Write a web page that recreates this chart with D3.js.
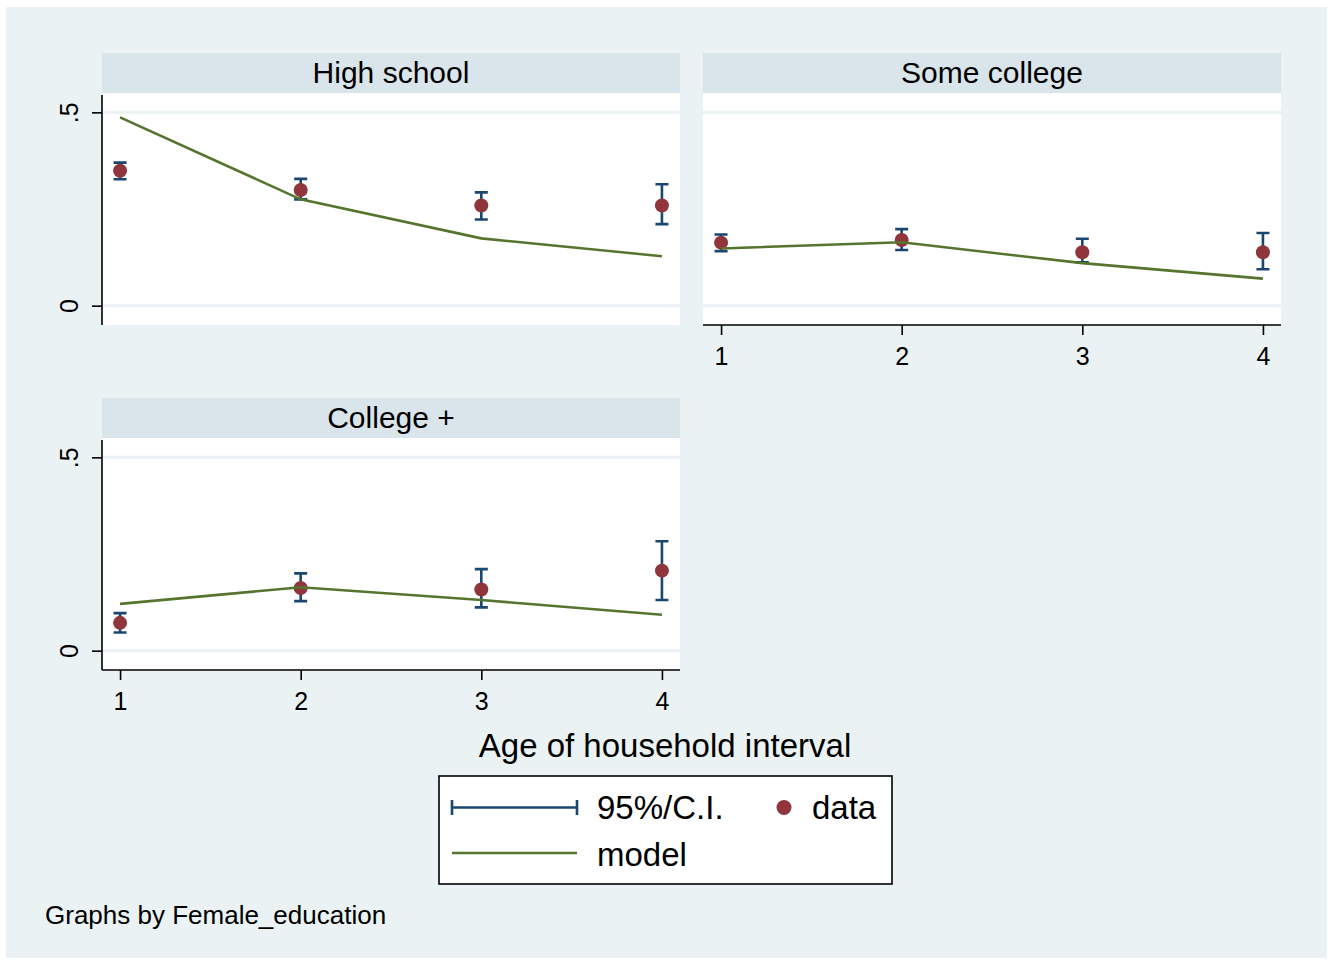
<!DOCTYPE html>
<html>
<head>
<meta charset="utf-8">
<script src="https://cdn.jsdelivr.net/npm/d3@7/dist/d3.min.js"></script>
<style>
  html, body { margin: 0; padding: 0; background: #ffffff; }
  svg { display: block; }
  text { font-family: "Liberation Sans", Arial, sans-serif; fill: #000; }
</style>
</head>
<body>
<svg id="chart" width="1332" height="962"></svg>
<script>
// Age of household interval (x axis)
const ageIntervals = [1, 2, 3, 4];
const xTickLabels = ["1", "2", "3", "4"];
const yTickValues = [0, 0.5];
const yTickLabels = ["0", ".5"];

// Female education groups (one panel each)
const groups = ["High school", "Some college", "College +"];

// High school
const dataHS    = [0.349, 0.299, 0.259, 0.259];
const ciLowHS   = [0.327, 0.275, 0.223, 0.211];
const ciHighHS  = [0.370, 0.328, 0.293, 0.314];
const modelHS   = [0.487, 0.275, 0.174, 0.128];

// Some college
const dataSC    = [0.163, 0.170, 0.138, 0.138];
const ciLowSC   = [0.141, 0.144, 0.112, 0.094];
const ciHighSC  = [0.184, 0.198, 0.173, 0.188];
const modelSC   = [0.148, 0.164, 0.110, 0.070];

// College +
const dataCP    = [0.072, 0.162, 0.158, 0.207];
const ciLowCP   = [0.047, 0.128, 0.112, 0.131];
const ciHighCP  = [0.097, 0.200, 0.211, 0.283];
const modelCP   = [0.121, 0.164, 0.131, 0.093];

const legendLabels = ["95%/C.I.", "data", "model"];
const xTitle = "Age of household interval";
const note = "Graphs by Female_education";

const colors = {
  bg: "#eaf2f3",
  strip: "#d9e5ea",
  grid: "#eaf2f3",
  ci: "#1a476f",
  data: "#90353b",
  model: "#55752f",
  axis: "#000000"
};

const panels = [
  { title: groups[0], d: dataHS, lo: ciLowHS, hi: ciHighHS, m: modelHS, x0: 102, y0: 53, yAxis: true,  xAxis: false },
  { title: groups[1], d: dataSC, lo: ciLowSC, hi: ciHighSC, m: modelSC, x0: 703, y0: 53, yAxis: false, xAxis: true },
  { title: groups[2], d: dataCP, lo: ciLowCP, hi: ciHighCP, m: modelCP, x0: 102, y0: 398, yAxis: true, xAxis: true }
];

const panelW = 578, stripH = 40, plotH = 232;

const svg = d3.select("#chart");

// graph region
svg.append("rect")
  .attr("x", 6).attr("y", 7).attr("width", 1321).attr("height", 951)
  .attr("fill", colors.bg);

panels.forEach(p => {
  const g = svg.append("g").attr("transform", `translate(${p.x0},${p.y0})`);
  const top = stripH;

  const x = d3.scaleLinear().domain([0.9, 4.1]).range([0, panelW]);
  const y = d3.scaleLinear().domain([-0.05, 0.55]).range([top + plotH, top]);

  // title strip
  g.append("rect").attr("x", 0).attr("y", 0).attr("width", panelW).attr("height", stripH)
    .attr("fill", colors.strip);
  g.append("text").attr("x", panelW / 2).attr("y", 30)
    .attr("text-anchor", "middle").style("font-size", "30px").text(p.title);

  // plot region
  g.append("rect").attr("x", 0).attr("y", top).attr("width", panelW).attr("height", plotH)
    .attr("fill", "#ffffff");

  // grid lines
  g.selectAll(".grid").data(yTickValues).enter().append("line")
    .attr("x1", 0).attr("x2", panelW)
    .attr("y1", d => y(d)).attr("y2", d => y(d))
    .attr("stroke", colors.grid).attr("stroke-width", 3);

  // y axis
  if (p.yAxis) {
    const ya = g.append("g").call(
      d3.axisLeft(y).tickValues(yTickValues)
        .tickFormat((d, i) => yTickLabels[i]).tickSize(10).tickPadding(0)
    );
    ya.select(".domain").attr("d", `M0,${top + 2}V${top + plotH}`)
      .attr("stroke", colors.axis).attr("stroke-width", 1.6);
    ya.selectAll(".tick line").attr("stroke", colors.axis).attr("stroke-width", 1.6);
    ya.selectAll(".tick text")
      .attr("x", null).attr("dy", null)
      .attr("transform", "translate(-24,0) rotate(-90)")
      .attr("text-anchor", "middle")
      .style("font-size", "25px")
      .style("font-family", '"Liberation Sans", Arial, sans-serif')
      .attr("fill", "#000");
  }

  // x axis
  if (p.xAxis) {
    const xa = g.append("g").attr("transform", `translate(0,${top + plotH})`).call(
      d3.axisBottom(x).tickValues(ageIntervals)
        .tickFormat((d, i) => xTickLabels[i]).tickSize(10).tickPadding(6)
    );
    xa.select(".domain").attr("d", `M0,0H${panelW}`)
      .attr("stroke", colors.axis).attr("stroke-width", 1.6);
    xa.selectAll(".tick line").attr("stroke", colors.axis).attr("stroke-width", 1.6);
    xa.selectAll(".tick text")
      .attr("dy", null).attr("y", 40)
      .style("font-size", "25px")
      .style("font-family", '"Liberation Sans", Arial, sans-serif')
      .attr("fill", "#000");
  }

  // confidence interval caps
  const capW = 6.5;
  const ci = g.append("g").attr("stroke", colors.ci).attr("stroke-width", 2.6).attr("fill", "none");
  ageIntervals.forEach((a, i) => {
    const cx = x(a);
    ci.append("path").attr("d",
      `M${cx},${y(p.lo[i])}V${y(p.hi[i])}` +
      `M${cx - capW},${y(p.lo[i])}H${cx + capW}` +
      `M${cx - capW},${y(p.hi[i])}H${cx + capW}`);
  });

  // observed data
  g.selectAll(".pt").data(p.d).enter().append("circle")
    .attr("cx", (d, i) => x(ageIntervals[i])).attr("cy", d => y(d))
    .attr("r", 7).attr("fill", colors.data);

  // model line
  const line = d3.line().x((d, i) => x(ageIntervals[i])).y(d => y(d));
  g.append("path").datum(p.m).attr("d", line)
    .attr("fill", "none").attr("stroke", colors.model).attr("stroke-width", 2.6);
});

// x axis title
svg.append("text").attr("x", 665).attr("y", 757).attr("text-anchor", "middle")
  .style("font-size", "33px").text(xTitle);

// legend
const lg = svg.append("g");
lg.append("rect").attr("x", 439).attr("y", 776).attr("width", 453).attr("height", 108)
  .attr("fill", "#ffffff").attr("stroke", "#000").attr("stroke-width", 1.6);
lg.append("path")
  .attr("d", "M452,807.5H577M452,800V815M577,800V815")
  .attr("stroke", colors.ci).attr("stroke-width", 2.6).attr("fill", "none");
lg.append("text").attr("x", 597).attr("y", 819).style("font-size", "33px").text(legendLabels[0]);
lg.append("circle").attr("cx", 784).attr("cy", 807.5).attr("r", 7.5).attr("fill", colors.data);
lg.append("text").attr("x", 812).attr("y", 819).style("font-size", "33px").text(legendLabels[1]);
lg.append("path").attr("d", "M452,853H577")
  .attr("stroke", colors.model).attr("stroke-width", 2.6);
lg.append("text").attr("x", 597).attr("y", 866).style("font-size", "33px").text(legendLabels[2]);

// note
svg.append("text").attr("x", 45).attr("y", 924).style("font-size", "26px").text(note);
</script>
</body>
</html>
